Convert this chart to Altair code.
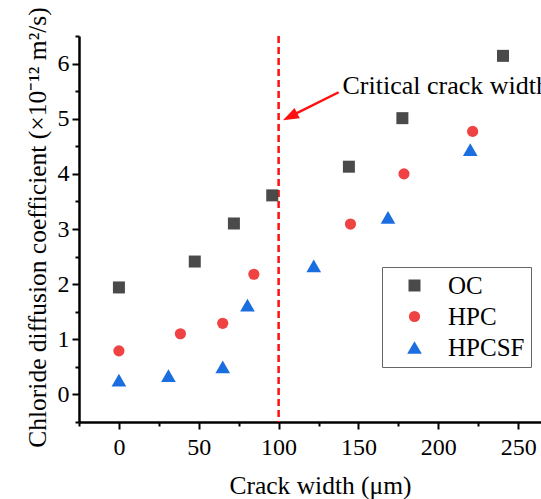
import altair as alt
import pandas as pd

# ---- data ----
series_names = ["OC", "HPC", "HPCSF"]
oc_x = [0, 47.5, 72, 96, 144, 177.5, 240.5]
oc_y = [1.94, 2.41, 3.10, 3.61, 4.13, 5.01, 6.14]
hpc_x = [0, 38.5, 65, 84.5, 145, 178.5, 221.5]
hpc_y = [0.79, 1.10, 1.29, 2.18, 3.09, 4.00, 4.77]
hpcsf_x = [0, 31, 65, 80.5, 122, 168.5, 220]
hpcsf_y = [0.26, 0.34, 0.50, 1.62, 2.33, 3.21, 4.44]

x_major_ticks = [0, 50, 100, 150, 200, 250]
x_minor_ticks = [-25, 25, 75, 125, 175, 225]
y_major_ticks = [0, 1, 2, 3, 4, 5, 6]
y_minor_ticks = [-0.5, 0.5, 1.5, 2.5, 3.5, 4.5, 5.5, 6.5]

critical_width = [100]
annotation_text = ["Critical crack width"]
annotation_x = [140]
annotation_y = [5.44]
arrow_tail = [137.6, 5.48]
arrow_line_end = [107.0, 5.04]
arrow_tip = [102.7, 4.97]

colors = ["#4a4a4a", "#ef4242", "#1a6ee0"]
shapes = ["square", "circle", "triangle-up"]
sizes = [144, 125, 215]
red = "#ff1010"
FONT = "Liberation Serif"

df = pd.DataFrame({
    "w": oc_x + hpc_x + hpcsf_x,
    "d": oc_y + hpc_y + hpcsf_y,
    "s": ["OC"] * len(oc_x) + ["HPC"] * len(hpc_x) + ["HPCSF"] * len(hpcsf_x),
})

xscale = alt.Scale(domain=[-25, 264.3], nice=False, zero=False)
yscale = alt.Scale(domain=[-0.5, 6.5], nice=False, zero=False)

x_axis_major = alt.Axis(
    values=x_major_ticks, orient="bottom", title="Crack width (μm)",
    tickSize=7, tickWidth=2, domainWidth=2.5, labelFont=FONT, labelFontSize=24,
    labelPadding=6, titleFont=FONT, titleFontSize=25.5, titleX=241, titleY=71,
    titleBaseline="alphabetic", titleAnchor="middle", titleAlign="center",
    labelFlush=False, labelOverlap=False,
)
y_axis_major = alt.Axis(
    values=y_major_ticks, orient="left",
    title="Chloride diffusion coefficient (×10⁻¹² m²/s)",
    tickSize=7, tickWidth=2, domainWidth=2.5, labelFont=FONT, labelFontSize=24,
    labelPadding=3, titleFont=FONT, titleFontSize=25.5, titleX=-34, titleY=191,
    titleAngle=-90, titleBaseline="alphabetic", titleAlign="center",
    labelFlush=False, labelOverlap=False,
)
x_axis_minor = alt.Axis(values=x_minor_ticks, orient="bottom", labels=False,
                        title=None, tickSize=4, tickWidth=2, domain=False)
y_axis_minor = alt.Axis(values=y_minor_ticks, orient="left", labels=False,
                        title=None, tickSize=4, tickWidth=2, domain=False)

legend = alt.Legend(
    orient="none", legendX=303, legendY=231, title=None,
    fillColor="white", strokeColor="#666666", padding=6,
    symbolOffset=14, labelOffset=21, labelFontSize=25, labelFont=FONT,
    symbolStrokeWidth=0, rowPadding=5,
)

rule = alt.Chart(pd.DataFrame({"x": critical_width})).mark_rule(
    color=red, strokeWidth=2.5, strokeDash=[7, 4]
).encode(x=alt.X("x:Q", scale=xscale, axis=None))

scatter = alt.Chart(df).mark_point(filled=True, opacity=1, strokeWidth=0).encode(
    x=alt.X("w:Q", scale=xscale, axis=x_axis_major),
    y=alt.Y("d:Q", scale=yscale, axis=y_axis_major),
    color=alt.Color("s:N", scale=alt.Scale(domain=series_names, range=colors), legend=legend),
    shape=alt.Shape("s:N", scale=alt.Scale(domain=series_names, range=shapes), legend=legend),
    size=alt.Size("s:N", scale=alt.Scale(type="ordinal", domain=series_names, range=sizes),
                  legend=legend),
)

minor = alt.Chart(df).mark_point(opacity=0).encode(
    x=alt.X("w:Q", scale=xscale, axis=x_axis_minor),
    y=alt.Y("d:Q", scale=yscale, axis=y_axis_minor),
)

arrow_df = pd.DataFrame({"x": [arrow_tail[0]], "y": [arrow_tail[1]],
                         "x2": [arrow_line_end[0]], "y2": [arrow_line_end[1]]})
arrow_line = alt.Chart(arrow_df).mark_rule(color=red, strokeWidth=2.5).encode(
    x=alt.X("x:Q", scale=xscale, axis=None),
    y=alt.Y("y:Q", scale=yscale, axis=None),
    x2="x2:Q", y2="y2:Q",
)

head_df = pd.DataFrame({"x": [arrow_tip[0]], "y": [arrow_tip[1]]})
arrow_head = alt.Chart(head_df).mark_point(
    shape="M0,0 L-0.36,1 L0.36,1 Z", filled=True, size=1024, angle=243,
    color=red, opacity=1, strokeWidth=0,
).encode(
    x=alt.X("x:Q", scale=xscale, axis=None),
    y=alt.Y("y:Q", scale=yscale, axis=None),
)

text_df = pd.DataFrame({"x": annotation_x, "y": annotation_y, "t": annotation_text})
label = alt.Chart(text_df).mark_text(
    align="left", baseline="alphabetic", font=FONT, fontSize=26, color="black"
).encode(
    x=alt.X("x:Q", scale=xscale, axis=None),
    y=alt.Y("y:Q", scale=yscale, axis=None),
    text="t:N",
)

chart = alt.layer(rule, scatter, minor, arrow_line, arrow_head, label).resolve_axis(
    x="independent", y="independent"
).properties(
    width=462, height=386,
    autosize=alt.AutoSizeParams(type="none"),
    padding={"left": 79, "top": 36, "right": 0, "bottom": 77},
    background="white",
).configure_view(stroke=None).configure_axis(
    grid=False, labelFont=FONT, titleFont=FONT, domainColor="black",
    tickColor="black", labelColor="black", titleColor="black",
    titleFontWeight="normal",
).configure_legend(labelFont=FONT, labelColor="black")

chart.save("out.html", embed_options={"renderer": "svg", "actions": False})
